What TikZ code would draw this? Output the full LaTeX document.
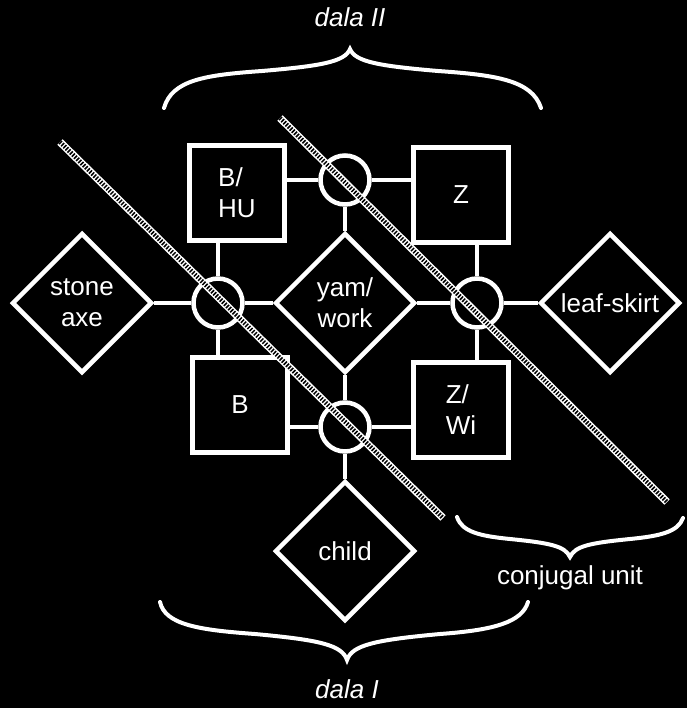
\documentclass[tikz,border=0pt]{standalone}
\usepackage{fontspec}
\setmainfont{Liberation Sans}
\usetikzlibrary{shapes.geometric}
\begin{document}
\begin{tikzpicture}[x=1pt,y=-1pt,
    kin/.style={draw=white,line width=4.5pt,minimum size=95pt,inner sep=0pt,text=white,align=left,font=\fontsize{26}{31}\selectfont},
    item/.style={diamond,draw=white,line width=4.5pt,minimum size=140pt,inner sep=0pt,text=white,align=center,font=\fontsize{26}{31}\selectfont},
    link/.style={circle,draw=white,line width=4.5pt,minimum size=49pt,inner sep=0pt},
    tie/.style={draw=white,line width=4.5pt},
    hatch/.style={white,line width=7.5pt,postaction={draw=black,line width=4.5pt,dash pattern=on 1.5pt off 1.5pt}},
    brace/.style={white,line width=4pt,line cap=round},
    lbl/.style={text=white,font=\fontsize{26}{31}\selectfont}]
  \fill[black] (0,0) rectangle (687,708);
  \useasboundingbox (0,0) rectangle (687,708);
    % siblings and spouses
    \node[kin] (bhu) at (237,193) {B/\\HU};
    \node[kin] (z) at (461,195) {Z};
    \node[kin] (b) at (240,405) {B};
    \node[kin] (zwi) at (461,410) {Z/\\Wi};
    % exchange items
    \node[item] (yam) at (345,303) {yam/\\work};
    \node[item] (axe) at (82,303) {stone\\axe};
    \node[item] (skirt) at (610,303) {leaf-skirt};
    \node[item] (child) at (345,551) {child};
    % links
    \node[link] (ct) at (345,180) {};
    \node[link] (cl) at (218,303) {};
    \node[link] (cr) at (477,303) {};
    \node[link] (cb) at (345,427) {};
    \draw[tie] (ct.west) -- (ct.west -| bhu.east);
    \draw[tie] (ct.east) -- (ct.east -| z.west);
    \draw[tie] (ct.south) -- (yam.north);
    \draw[tie] (cl.north) -- (cl.north |- bhu.south);
    \draw[tie] (cl.south) -- (cl.south |- b.north);
    \draw[tie] (cl.west) -- (axe.east);
    \draw[tie] (cl.east) -- (yam.west);
    \draw[tie] (cr.north) -- (cr.north |- z.south);
    \draw[tie] (cr.south) -- (cr.south |- zwi.north);
    \draw[tie] (cr.west) -- (yam.east);
    \draw[tie] (cr.east) -- (skirt.west);
    \draw[tie] (cb.west) -- (cb.west -| b.east);
    \draw[tie] (cb.east) -- (cb.east -| zwi.west);
    \draw[tie] (cb.north) -- (yam.south);
    \draw[tie] (cb.south) -- (child.north);
    % the two cuts
    \coordinate (h1a) at (60,142);
    \coordinate (h1b) at (443,518);
    \coordinate (h2a) at (280,118);
    \coordinate (h2b) at (667,502);
    \draw[hatch] (h1a) -- (h1b);
    \draw[hatch] (h2a) -- (h2b);
    % braces
    \draw[brace] (164,108) .. controls (172,80) and (205,75) .. (262,71)
      .. controls (320,66) and (345,62) .. (350,49)
      .. controls (355,62) and (380,66) .. (438,71)
      .. controls (495,75) and (532,80) .. (541,108);
    \node[lbl,anchor=base] (dala2) at (350,27) {\itshape dala II};
    \draw[brace] (160,602) .. controls (165,625) and (200,630) .. (255,634)
      .. controls (320,640) and (342,645) .. (347,660)
      .. controls (352,645) and (375,640) .. (440,634)
      .. controls (495,630) and (522,622) .. (528,602);
    \node[lbl,anchor=base] (dala1) at (347,698) {\itshape dala I};
    \draw[brace] (457,517) .. controls (462,532) and (480,536) .. (510,539)
      .. controls (550,543) and (565,546) .. (570,557)
      .. controls (575,546) and (590,543) .. (630,539)
      .. controls (660,536) and (678,532) .. (683,518);
    \node[lbl] (unit) at (570,578) {conjugal unit};
\end{tikzpicture}
\end{document}
